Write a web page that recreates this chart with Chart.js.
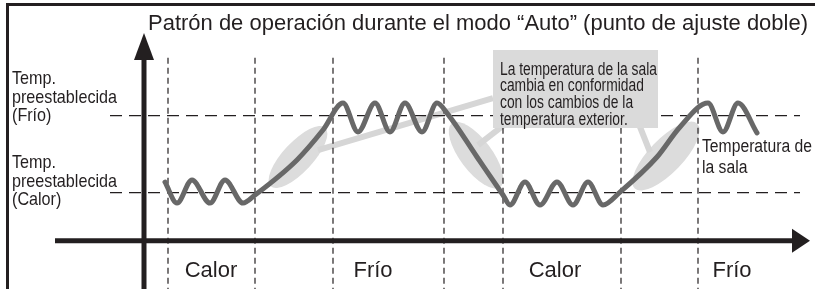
<!DOCTYPE html>
<html>
<head>
<meta charset="utf-8">
<script src="https://cdn.jsdelivr.net/npm/chart.js@4.4.0/dist/chart.umd.min.js"></script>
<style>
  html, body { margin: 0; padding: 0; background: #fff; }
  #wrap { position: relative; width: 815px; height: 289px; overflow: hidden; }
  #frame { position: absolute; left: 6px; top: 3px; width: 900px; height: 400px;
           border-top: 3px solid #231f20; border-left: 3px solid #231f20; }
  canvas { position: absolute; left: 0; top: 0; }
</style>
</head>
<body>
<div id="wrap"><div id="frame"></div><canvas id="chart" width="815" height="289"></canvas></div>
<script>
// x = time (arbitrary units), y = temperature (°C)
const setCalor = 20;
const setFrio = 24;
const modeChanges = [2.4, 11.1, 18.9, 30.0, 35.9, 47.7, 55.4];
const modeLabels = ['Calor', 'Frío', 'Calor', 'Frío'];
const modeLabelAt = [6.7, 22.9, 41.1, 58.8];

// room temperature trace
const roomTime = [2.1, 3.3, 4.8, 6.6, 8.1, 9.9, 11.1, 15.3, 17.9, 19.9, 21.4, 23.1, 24.6, 26.1, 27.8, 29.3, 30.3,
                  33.3, 35.9, 36.6, 38.1, 39.6, 41.3, 42.9, 44.4, 45.9, 47.6, 51.3, 53.6, 56.4, 57.9, 59.4, 61.3];
const roomTemp = [20.55, 19.46, 20.66, 19.46, 20.66, 19.46, 19.88, 21.70, 23.25, 24.65, 23.15, 24.65, 23.15, 24.65, 23.15, 24.65, 24.13,
                  21.85, 19.88, 19.36, 20.55, 19.36, 20.55, 19.36, 20.55, 19.36, 20.03, 21.85, 23.41, 24.65, 23.15, 24.65, 23.10];

// highlighted transitions and the callout that points at them
const spotTime = [15.4, 33.2, 52.2];
const spotTemp = [21.85, 21.95, 21.90];
const leaderFrom = [[17.4, 22.21], [33.4, 22.47], [50.6, 22.11]];
const leaderTo = [[34.9, 24.91], [36.1, 23.56], [49.4, 23.67]];

const titleText = 'Patrón de operación durante el modo “Auto” (punto de ajuste doble)';
const frioLabel = ['Temp.', 'preestablecida', '(Frío)'];
const calorLabel = ['Temp.', 'preestablecida', '(Calor)'];
const roomLabel = ['Temperatura de', 'la sala'];
const noteLines = ['La temperatura de la sala', 'cambia en conformidad', 'con los cambios de la', 'temperatura exterior.'];

const ink = '#231f20';

const datasets = [];

// axes shafts
datasets.push({ data: [{ x: 0, y: 15 }, { x: 0, y: 27.2 }], borderColor: ink, borderWidth: 5, order: 1 });
datasets.push({ data: [{ x: -8.9, y: 17.5 }, { x: 65.2, y: 17.5 }], borderColor: ink, borderWidth: 5, order: 1 });

// room temperature
datasets.push({
    data: roomTime.map((t, i) => ({ x: t, y: roomTemp[i] })),
    borderColor: '#686868', borderWidth: 5, cubicInterpolationMode: 'monotone',
    borderCapStyle: 'round', borderJoinStyle: 'round', order: 2
});

// set points
[setFrio, setCalor].forEach(v => {
    datasets.push({ data: [{ x: -3.4, y: v }, { x: 65.6, y: v }], borderColor: ink, borderWidth: 1.3, borderDash: [12, 7], order: 3 });
});

// mode change markers
modeChanges.forEach(t => {
    datasets.push({ data: [{ x: t, y: 27 }, { x: t, y: 15 }], borderColor: ink, borderWidth: 1.2, borderDash: [6, 4], order: 3 });
});

// callout leaders
leaderFrom.forEach((p, i) => {
    datasets.push({ data: [{ x: p[0], y: p[1] }, { x: leaderTo[i][0], y: leaderTo[i][1] }], borderColor: '#d6d6d6', borderWidth: 6, order: 5 });
});

function drawBlock(ctx, lines, x, y, font, lineGap, fitWidth, align) {
    ctx.font = font;
    let maxW = 0;
    lines.forEach(l => { maxW = Math.max(maxW, ctx.measureText(l).width); });
    const sx = fitWidth ? fitWidth / maxW : 1;
    ctx.textAlign = align || 'left';
    ctx.textBaseline = 'alphabetic';
    lines.forEach((l, i) => {
        ctx.save();
        ctx.translate(x, y + i * lineGap);
        ctx.scale(sx, 1);
        ctx.fillText(l, 0, 0);
        ctx.restore();
    });
}

const diagramPlugin = {
    id: 'diagram',
    beforeDatasetsDraw(chart) {
        const ctx = chart.ctx, xs = chart.scales.x, ys = chart.scales.y;
        const sizes = [[40, 15, -47], [40, 16, 53], [45, 17, -46]];
        ctx.save();
        ctx.fillStyle = '#dcdcdc';
        spotTime.forEach((t, i) => {
            ctx.beginPath();
            ctx.ellipse(xs.getPixelForValue(t), ys.getPixelForValue(spotTemp[i]),
                sizes[i][0], sizes[i][1], sizes[i][2] * Math.PI / 180, 0, Math.PI * 2);
            ctx.fill();
        });
        ctx.restore();
    },
    afterDatasetsDraw(chart) {
        const ctx = chart.ctx, xs = chart.scales.x, ys = chart.scales.y;
        const X = v => xs.getPixelForValue(v), Y = v => ys.getPixelForValue(v);
        ctx.save();

        // arrow heads
        ctx.fillStyle = ink;
        ctx.beginPath();
        ctx.moveTo(X(0), Y(28.29));
        ctx.lineTo(X(0) - 10, Y(26.89));
        ctx.lineTo(X(0) + 10, Y(26.89));
        ctx.closePath();
        ctx.fill();
        ctx.beginPath();
        ctx.moveTo(X(66.6), Y(17.5));
        ctx.lineTo(X(64.8), Y(17.5) - 12);
        ctx.lineTo(X(64.8), Y(17.5) + 12);
        ctx.closePath();
        ctx.fill();

        // callout box
        ctx.fillStyle = '#dadada';
        ctx.fillRect(X(34.9), Y(27.405), X(51.4) - X(34.9), Y(23.356) - Y(27.405));

        ctx.fillStyle = ink;
        drawBlock(ctx, noteLines, X(35.6), Y(26.133), '17.5px "Liberation Sans", Arial, sans-serif', 16.7, 157);
        drawBlock(ctx, [titleText], X(0.4), Y(28.443), '22px "Liberation Sans", Arial, sans-serif', 0, 660);
        drawBlock(ctx, frioLabel, X(-13.2), Y(25.64), '18.5px "Liberation Sans", Arial, sans-serif', 18.5, 105);
        drawBlock(ctx, calorLabel, X(-13.2), Y(21.28), '18.5px "Liberation Sans", Arial, sans-serif', 18.5, 105);
        drawBlock(ctx, roomLabel, X(55.8), Y(22.111), '18px "Liberation Sans", Arial, sans-serif', 21.5, 110);
        modeLabels.forEach((m, i) => {
            drawBlock(ctx, [m], X(modeLabelAt[i]), Y(15.623), '22px "Liberation Sans", Arial, sans-serif', 0, 0, 'center');
        });
        ctx.restore();
    }
};

new Chart(document.getElementById('chart'), {
    type: 'line',
    data: { datasets: datasets },
    options: {
        responsive: false,
        animation: false,
        devicePixelRatio: 1,
        layout: { padding: 0 },
        elements: { point: { radius: 0 }, line: { fill: false } },
        plugins: { legend: { display: false }, tooltip: { enabled: false } },
        scales: {
            x: { type: 'linear', min: -14.4, max: 67.1, display: false },
            y: { type: 'linear', min: 15, max: 30, display: false }
        }
    },
    plugins: [diagramPlugin]
});
</script>
</body>
</html>
